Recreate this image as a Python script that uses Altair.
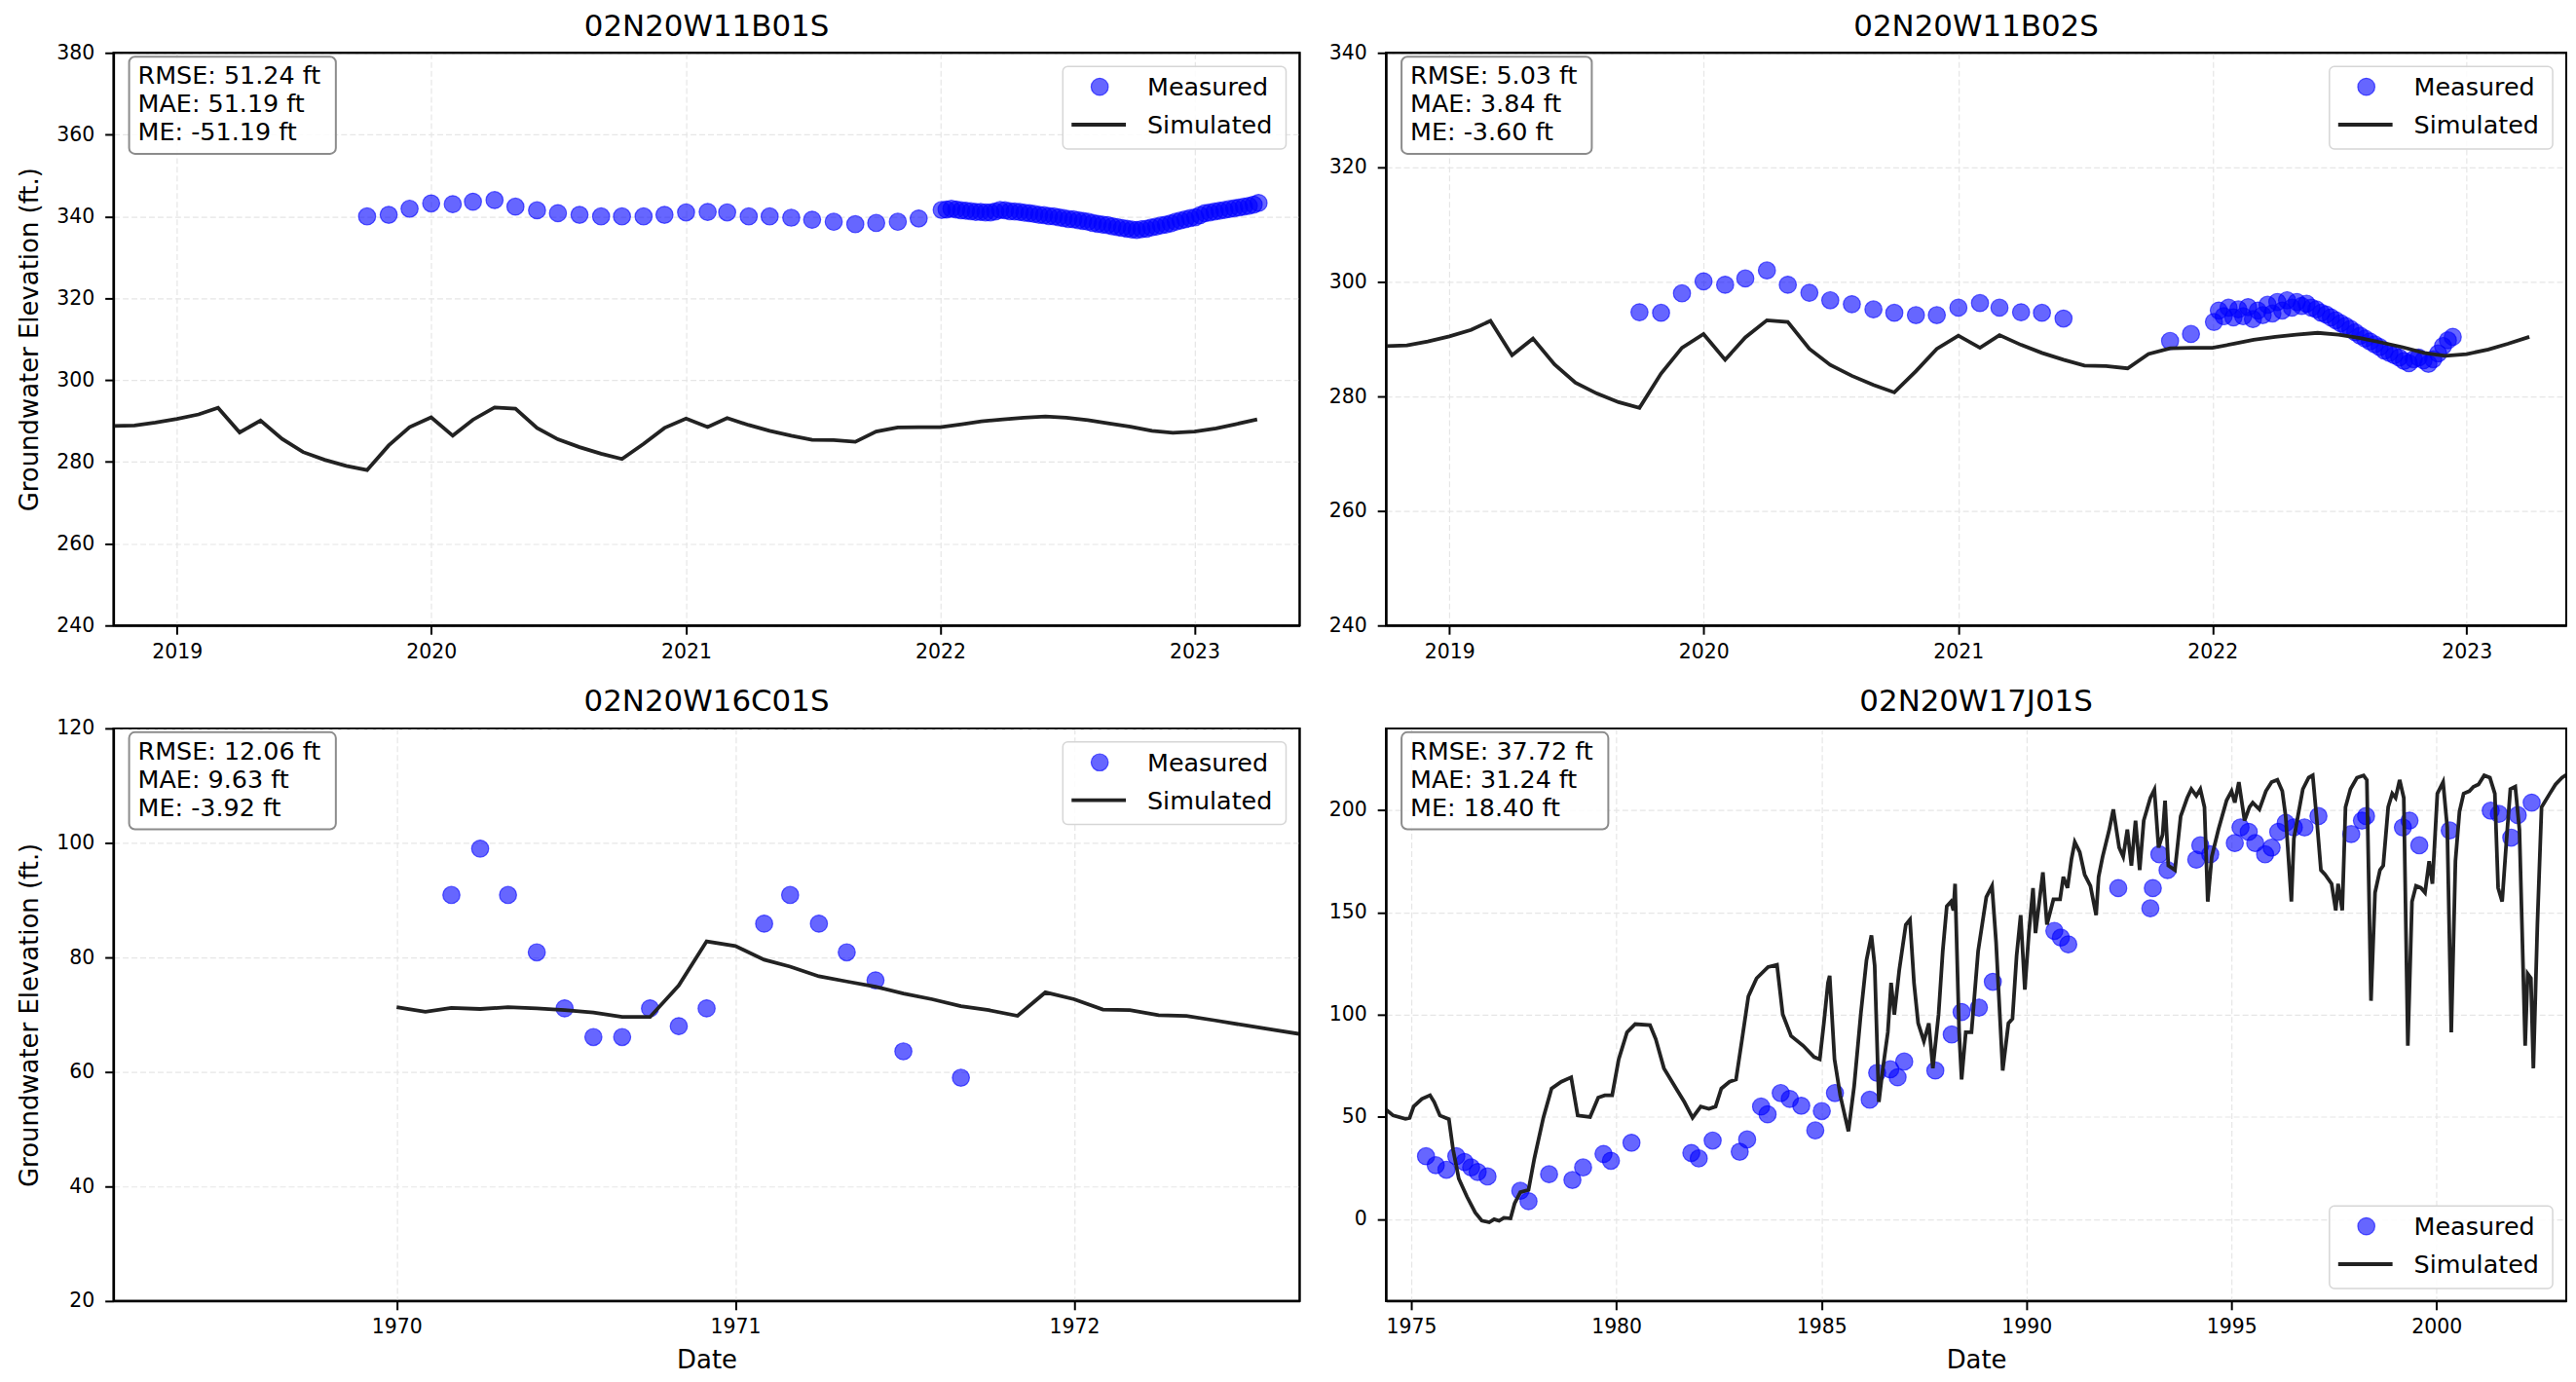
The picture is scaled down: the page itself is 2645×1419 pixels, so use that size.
import altair as alt
import pandas as pd

FONT = "DejaVu Sans"

# ---------------- data ----------------
titles = ["02N20W11B01S", "02N20W11B02S", "02N20W16C01S", "02N20W17J01S"]
stats = [
    ["RMSE: 51.24 ft", "MAE: 51.19 ft", "ME: -51.19 ft"],
    ["RMSE: 5.03 ft", "MAE: 3.84 ft", "ME: -3.60 ft"],
    ["RMSE: 12.06 ft", "MAE: 9.63 ft", "ME: -3.92 ft"],
    ["RMSE: 37.72 ft", "MAE: 31.24 ft", "ME: 18.40 ft"],
]
series_names = ["Measured", "Simulated"]
y_title = "Groundwater Elevation (ft.)"
x_title = "Date"

# simulated heads shared by wells 11B01S / 11B02S (monthly, from 2018-10)
sim_11b_start = "2018-10-01"
sim_11b = [288.8, 288.9, 289.6, 290.5, 291.6, 293.2, 287.2, 290.1, 285.6, 282.4,
           280.5, 279.0, 278.0, 284.0, 288.5, 290.9, 286.4, 290.3, 293.3, 293.0,
           288.3, 285.5, 283.6, 282.0, 280.7, 284.4, 288.3, 290.6, 288.5, 290.7,
           289.0, 287.6, 286.4, 285.4, 285.3, 284.9, 287.4, 288.4, 288.5, 288.5,
           289.2, 289.9, 290.4, 290.8, 291.1, 290.8, 290.2, 289.4, 288.6, 287.6,
           287.1, 287.4, 288.2, 289.2, 290.4]

# 11B01S measured: monthly 2019-10 .. 2021-12, then weekly 2022-01 .. 2023-04
b01_monthly_start = "2019-10-01"
b01_monthly = [340.0, 340.4, 341.9, 343.2, 343.0, 343.6, 344.0, 342.4, 341.5, 340.8,
               340.4, 340.0, 340.0, 340.0, 340.4, 341.0, 341.1, 341.0, 340.0, 340.0,
               339.7, 339.2, 338.7, 338.1, 338.4, 338.7, 339.5]
b01_weekly_start = "2022-01-03"
b01_weekly = [341.6, 341.7, 341.9, 341.7, 341.5, 341.4, 341.3, 341.1, 341.1, 341.0,
              341.0, 341.2, 341.6, 341.5, 341.3, 341.2, 341.1, 340.9, 340.8, 340.6,
              340.4, 340.3, 340.1, 340.0, 339.8, 339.6, 339.4, 339.3, 339.1, 338.9,
              338.7, 338.4, 338.2, 338.0, 337.9, 337.6, 337.4, 337.2, 337.0, 336.8,
              336.7, 336.9, 337.0, 337.3, 337.5, 337.8, 338.0, 338.3, 338.7, 339.0,
              339.3, 339.6, 339.8, 340.3, 340.8, 341.0, 341.2, 341.4, 341.6, 341.8,
              342.0, 342.2, 342.4, 342.6, 342.9, 343.3]

# 11B02S measured
b02_monthly_start = "2019-10-01"
b02_monthly = [294.7, 294.6, 298.0, 300.1, 299.5, 300.6, 302.0, 299.5, 298.1, 296.8,
               296.1, 295.2, 294.6, 294.2, 294.2, 295.5, 296.3, 295.5, 294.7, 294.6,
               293.6]
b02_late_dates = ["2021-11-01", "2021-12-01"]
b02_late = [289.7, 290.9]
b02_weekly_start = "2022-01-03"
b02_weekly = [293.0, 295.0, 294.0, 295.5, 293.8, 295.2, 294.0, 295.6, 293.5, 295.0,
              294.2, 296.0, 294.5, 296.5, 295.0, 296.8, 295.5, 296.5, 295.8, 296.2,
              295.5, 295.2, 294.6, 294.3, 293.8, 293.3, 292.8, 292.3, 291.8, 291.2,
              290.6, 290.1, 289.6, 289.1, 288.6, 288.0, 287.6, 287.2, 286.8, 286.2,
              285.8, 286.5, 286.8, 286.3, 285.7, 286.5, 287.5, 288.8, 289.8, 290.4]

# 16C01S
c01_sim_start = "1970-01-01"
c01_sim = [71.3, 70.5, 71.2, 71.0, 71.3, 71.1, 70.8, 70.4, 69.6, 69.6, 75.1, 82.8,
           82.0, 79.6, 78.4, 76.7, 75.8, 74.9, 73.7, 72.7, 71.5, 70.8, 69.8, 73.9,
           72.7, 70.9, 70.8, 69.9, 69.8, 69.0, 68.2, 67.4, 66.6]
c01_meas_dates = ["1970-03-01", "1970-04-01", "1970-05-01", "1970-06-01", "1970-07-01",
                  "1970-08-01", "1970-09-01", "1970-10-01", "1970-11-01", "1970-12-01",
                  "1971-02-01", "1971-03-01", "1971-04-01", "1971-05-01", "1971-06-01",
                  "1971-07-01", "1971-09-01"]
c01_meas = [90.9, 99.0, 90.9, 80.9, 71.1, 66.1, 66.1, 71.1, 68.0, 71.1,
            85.9, 90.9, 85.9, 80.9, 76.0, 63.6, 59.0]

# 17J01S (decimal year, value)
j01_sim = [(1974.36, 54.0), (1974.56, 50.7), (1974.86, 49.1), (1974.96, 49.5), (1975.06, 55.1),
           (1975.26, 58.8), (1975.46, 60.6), (1975.56, 57.3), (1975.70, 50.7), (1975.92, 48.9),
           (1976.02, 34.1), (1976.16, 19.8), (1976.36, 11.0), (1976.56, 3.3), (1976.72, -0.7),
           (1976.90, -1.5), (1977.02, 0.0), (1977.14, -0.8), (1977.26, 0.7), (1977.42, 0.4),
           (1977.52, 7.7), (1977.66, 13.2), (1977.86, 14.3), (1978.00, 29.7), (1978.22, 49.6),
           (1978.42, 63.9), (1978.66, 67.2), (1978.90, 69.4), (1979.06, 50.7), (1979.36, 50.0),
           (1979.56, 59.5), (1979.72, 60.6), (1979.90, 60.6), (1980.06, 78.2), (1980.26, 91.4),
           (1980.46, 95.4), (1980.82, 94.9), (1980.96, 88.1), (1981.16, 73.8), (1981.46, 63.9),
           (1981.66, 57.3), (1981.86, 49.6), (1982.06, 55.1), (1982.26, 54.0), (1982.42, 55.1),
           (1982.56, 63.9), (1982.76, 67.2), (1982.92, 68.3), (1983.06, 87.0), (1983.22, 109.0),
           (1983.42, 117.8), (1983.70, 123.3), (1983.92, 124.4), (1984.06, 100.2), (1984.26, 89.6),
           (1984.56, 84.8), (1984.82, 79.3), (1984.96, 78.2), (1985.06, 95.8), (1985.16, 115.6),
           (1985.20, 119.0), (1985.32, 78.2), (1985.46, 60.6), (1985.66, 43.0), (1985.80, 65.0),
           (1985.96, 100.2), (1986.10, 126.7), (1986.22, 138.8), (1986.30, 124.0), (1986.40, 57.3),
           (1986.50, 73.8), (1986.62, 91.4), (1986.70, 115.6), (1986.78, 100.0), (1986.90, 122.0),
           (1987.06, 144.0), (1987.16, 146.5), (1987.26, 115.6), (1987.36, 95.8), (1987.50, 87.0),
           (1987.62, 95.8), (1987.72, 73.8), (1987.86, 100.2), (1987.96, 131.0), (1988.06, 153.0),
           (1988.16, 155.3), (1988.22, 151.0), (1988.26, 164.0), (1988.36, 91.4), (1988.42, 68.3),
           (1988.52, 91.4), (1988.66, 91.4), (1988.82, 131.0), (1989.02, 157.5), (1989.16, 163.0),
           (1989.26, 135.5), (1989.42, 72.7), (1989.56, 95.8), (1989.66, 98.0), (1989.76, 128.9),
           (1989.86, 148.7), (1989.96, 112.3), (1990.06, 139.9), (1990.16, 161.9), (1990.22, 139.9),
           (1990.30, 153.0), (1990.40, 169.6), (1990.50, 144.1), (1990.66, 156.4), (1990.82, 156.4),
           (1990.90, 167.4), (1991.00, 162.0), (1991.10, 176.2), (1991.18, 184.4), (1991.30, 179.5),
           (1991.42, 168.5), (1991.56, 163.0), (1991.70, 148.7), (1991.76, 167.4), (1991.86, 177.3),
           (1992.02, 190.5), (1992.12, 200.4), (1992.26, 181.7), (1992.36, 177.3), (1992.46, 190.5),
           (1992.56, 172.9), (1992.66, 194.9), (1992.76, 170.7), (1992.86, 194.9), (1993.02, 206.0),
           (1993.12, 210.0), (1993.22, 181.7), (1993.32, 188.0), (1993.38, 204.6), (1993.46, 172.9),
           (1993.62, 170.7), (1993.76, 197.0), (1993.92, 206.0), (1994.02, 210.3), (1994.14, 207.0),
           (1994.24, 210.3), (1994.34, 201.5), (1994.42, 155.3), (1994.52, 177.3), (1994.68, 190.5),
           (1994.88, 204.8), (1995.00, 209.3), (1995.08, 203.7), (1995.18, 213.7), (1995.32, 194.9),
           (1995.44, 201.5), (1995.52, 203.7), (1995.68, 200.4), (1995.84, 209.3), (1995.98, 213.7),
           (1996.12, 214.8), (1996.24, 209.3), (1996.32, 197.0), (1996.46, 155.3), (1996.52, 186.1),
           (1996.62, 197.0), (1996.74, 210.3), (1996.88, 215.9), (1996.98, 217.0), (1997.08, 194.9),
           (1997.18, 170.7), (1997.28, 168.5), (1997.44, 164.0), (1997.54, 151.0), (1997.60, 164.0),
           (1997.70, 151.0), (1997.78, 201.5), (1997.90, 210.3), (1998.06, 215.9), (1998.22, 217.0),
           (1998.30, 214.8), (1998.40, 106.8), (1998.50, 159.7), (1998.62, 170.7), (1998.70, 172.9),
           (1998.82, 201.5), (1998.92, 208.1), (1999.00, 206.0), (1999.10, 214.8), (1999.20, 206.0),
           (1999.30, 84.8), (1999.40, 155.3), (1999.50, 163.0), (1999.62, 162.0), (1999.72, 159.7),
           (1999.82, 175.1), (1999.90, 164.0), (2000.02, 208.1), (2000.16, 213.7), (2000.26, 191.6),
           (2000.36, 91.4), (2000.46, 175.1), (2000.56, 199.3), (2000.66, 208.1), (2000.80, 209.3),
           (2000.90, 211.5), (2001.02, 212.6), (2001.16, 217.0), (2001.30, 215.9), (2001.42, 208.1),
           (2001.50, 162.0), (2001.60, 155.3), (2001.70, 184.0), (2001.80, 210.3), (2001.92, 211.5),
           (2002.02, 190.5), (2002.16, 84.8), (2002.22, 120.0), (2002.30, 117.8), (2002.36, 73.8),
           (2002.46, 144.3), (2002.56, 201.5), (2002.76, 208.1), (2002.90, 212.6), (2003.06, 215.9),
           (2003.22, 218.0)]
j01_meas = [(1975.36, 30.8), (1975.60, 26.4), (1975.86, 24.2), (1976.10, 30.8), (1976.30, 28.0),
            (1976.46, 25.3), (1976.62, 23.1), (1976.86, 20.9), (1977.66, 13.9), (1977.86, 8.8),
            (1978.36, 22.0), (1978.93, 19.2), (1979.19, 25.3), (1979.69, 31.9), (1979.87, 28.6),
            (1980.37, 37.4), (1981.83, 32.4), (1982.01, 29.7), (1982.35, 38.5), (1983.01, 33.0),
            (1983.19, 39.0), (1983.53, 55.1), (1983.69, 51.3), (1984.01, 61.7), (1984.23, 58.8),
            (1984.51, 55.5), (1984.85, 43.4), (1985.01, 52.9), (1985.33, 61.7), (1986.18, 58.4),
            (1986.36, 71.6), (1986.68, 73.3), (1986.86, 69.4), (1987.02, 77.1), (1987.78, 72.7),
            (1988.18, 90.3), (1988.42, 101.3), (1988.84, 103.5), (1989.18, 116.1), (1990.68, 141.0),
            (1990.84, 137.7), (1991.02, 134.4), (1992.24, 161.9), (1993.02, 152.0), (1993.08, 161.9),
            (1993.24, 178.4), (1993.44, 170.7), (1994.14, 175.8), (1994.24, 182.8), (1994.48, 178.4),
            (1995.08, 183.9), (1995.22, 191.6), (1995.42, 189.4), (1995.58, 183.9), (1995.82, 178.4),
            (1995.98, 181.7), (1996.14, 189.4), (1996.32, 193.8), (1996.52, 191.6), (1996.78, 191.6),
            (1997.12, 197.1), (1997.92, 188.3), (1998.18, 194.9), (1998.28, 197.1), (1999.18, 191.6),
            (1999.34, 194.9), (1999.58, 182.8), (2000.32, 190.1), (2001.32, 199.8), (2001.52, 198.2),
            (2001.82, 186.6), (2001.98, 197.6), (2002.32, 203.7)]

# axis settings
x_domains = [("2018-10-02", "2023-06-01"), ("2018-10-02", "2023-05-24"),
             ("1969-03-02", "1972-08-31"), ("1974-05-21", "2003-03-01")]
y_domains = [(240, 380), (240, 340), (20, 120), (-40, 240)]
x_tick_years = [[2019, 2020, 2021, 2022, 2023], [2019, 2020, 2021, 2022, 2023],
                [1970, 1971, 1972], [1975, 1980, 1985, 1990, 1995, 2000]]
y_ticks = [[240, 260, 280, 300, 320, 340, 360, 380], [240, 260, 280, 300, 320, 340],
           [20, 40, 60, 80, 100, 120], [0, 50, 100, 150, 200]]


# ---------------- helpers ----------------
def ms(s):
    return int(pd.Timestamp(s).value // 10**6)


def dec_to_date(y):
    yr = int(y)
    a = pd.Timestamp(yr, 1, 1)
    b = pd.Timestamp(yr + 1, 1, 1)
    return (a + (b - a) * (y - yr)).strftime("%Y-%m-%d")


def frame(dates, vals):
    return pd.DataFrame({"date": [pd.Timestamp(d).strftime("%Y-%m-%d") for d in dates],
                         "value": vals})


def monthly(start, vals):
    return frame(pd.date_range(start, periods=len(vals), freq="MS"), vals)


def weekly(start, vals):
    return frame(pd.date_range(start, periods=len(vals), freq="7D"), vals)


def pairs(p):
    return frame([dec_to_date(t) for t, _ in p], [v for _, v in p])


sim_frames = [monthly(sim_11b_start, sim_11b), monthly(sim_11b_start, sim_11b),
              monthly(c01_sim_start, c01_sim), pairs(j01_sim)]
meas_frames = [
    pd.concat([monthly(b01_monthly_start, b01_monthly), weekly(b01_weekly_start, b01_weekly)]),
    pd.concat([monthly(b02_monthly_start, b02_monthly), frame(b02_late_dates, b02_late),
               weekly(b02_weekly_start, b02_weekly)]),
    frame(c01_meas_dates, c01_meas),
    pairs(j01_meas),
]

DUMMY = alt.Data(values=[{"k": 0}])
BLUE = "#0000ff"
LINE = "#222222"
PT_SIZE = 310


def txt(s, x, y, size=25.5, align="left"):
    return alt.Chart(DUMMY).mark_text(text=s, font=FONT, fontSize=size, color="black",
                                      align=align, baseline="alphabetic").encode(
        x=alt.value(x), y=alt.value(y))


def panel(i, W, H, show_ytitle, show_xtitle, legend_bottom, box_w):
    xs = alt.Scale(type="utc", domain=[ms(x_domains[i][0]), ms(x_domains[i][1])])
    ys = alt.Scale(domain=list(y_domains[i]), nice=False, zero=False)
    xaxis = alt.Axis(values=[ms(f"{y}-01-01") for y in x_tick_years[i]], format="%Y",
                     title=x_title if show_xtitle else None, grid=True, labelFlush=False)
    yaxis = alt.Axis(values=y_ticks[i], title=y_title if show_ytitle else None, grid=True)

    pts = alt.Chart(meas_frames[i]).mark_point(
        filled=True, size=PT_SIZE, fill=BLUE, fillOpacity=0.6, stroke=BLUE,
        strokeOpacity=0.6, strokeWidth=1.2, clip=True).encode(
        x=alt.X("date:T", scale=xs, axis=xaxis), y=alt.Y("value:Q", scale=ys, axis=yaxis))
    line = alt.Chart(sim_frames[i]).mark_line(color=LINE, strokeWidth=3.8, clip=True).encode(
        x=alt.X("date:T", scale=xs), y=alt.Y("value:Q", scale=ys))

    # plot frame drawn above the grid
    frame_rect = alt.Chart(DUMMY).mark_rect(filled=False, stroke="black", strokeWidth=2).encode(
        x=alt.value(0), x2=alt.value(W), y=alt.value(0), y2=alt.value(H))

    # panel title
    ttl = txt(titles[i], W / 2, -17.5, size=31, align="center")

    # stats box
    sbox = alt.Chart(DUMMY).mark_rect(fill="white", fillOpacity=0.85, stroke="#8c8c8c",
                                      strokeWidth=2, cornerRadius=6).encode(
        x=alt.value(16), x2=alt.value(16 + box_w), y=alt.value(4), y2=alt.value(104))
    stxt = [txt(s, 25, 32 + 29 * k) for k, s in enumerate(stats[i])]

    # legend
    dy = (H - 112) if legend_bottom else 0
    lbox = alt.Chart(DUMMY).mark_rect(fill="white", fillOpacity=0.85, stroke="#d6d6d6",
                                      strokeWidth=1.5, cornerRadius=5).encode(
        x=alt.value(W - 244), x2=alt.value(W - 14), y=alt.value(14 + dy), y2=alt.value(99 + dy))
    lpt = alt.Chart(DUMMY).mark_point(filled=True, size=PT_SIZE, fill=BLUE, fillOpacity=0.6,
                                      stroke=BLUE, strokeOpacity=0.6, strokeWidth=1.2).encode(
        x=alt.value(W - 206), y=alt.value(35 + dy))
    lline = alt.Chart(DUMMY).mark_rule(color=LINE, strokeWidth=3.8).encode(
        x=alt.value(W - 235), x2=alt.value(W - 179), y=alt.value(74 + dy))
    ltxt = [txt(series_names[0], W - 157, 44 + dy), txt(series_names[1], W - 157, 83 + dy)]

    return alt.layer(pts, line, frame_rect, ttl, sbox, *stxt, lbox, lpt, lline, *ltxt).properties(
        width=W, height=H)


W_L, W_R, H = 1222, 1216, 590
p1 = panel(0, W_L, H, True, False, False, 213)
p2 = panel(1, W_R, H, False, False, False, 196)
p3 = panel(2, W_L, H, True, True, False, 213)
p4 = panel(3, W_R, H, False, True, True, 213)

chart = alt.concat(p1, p2, p3, p4, columns=2, spacing={"row": 106, "column": 89},
                   bounds="flush").properties(
    padding={"left": 8, "top": 0, "right": 0, "bottom": 0}
).configure_view(stroke="black", strokeWidth=2).configure_axis(
    labelFont=FONT, labelFontSize=20.5, labelColor="black",
    titleFont=FONT, titleFontSize=26, titleFontWeight="normal", titleColor="black",
    tickColor="black", tickWidth=2, tickSize=9,
    domainColor="black", domainWidth=2,
    gridColor="#e6e6e6", gridWidth=1.2, gridDash=[6, 3],
).configure_axisX(labelPadding=8, titlePadding=10).configure_axisY(
    labelPadding=11, titlePadding=14
)

chart.save("out.html", embed_options={"renderer": "svg", "actions": False})
